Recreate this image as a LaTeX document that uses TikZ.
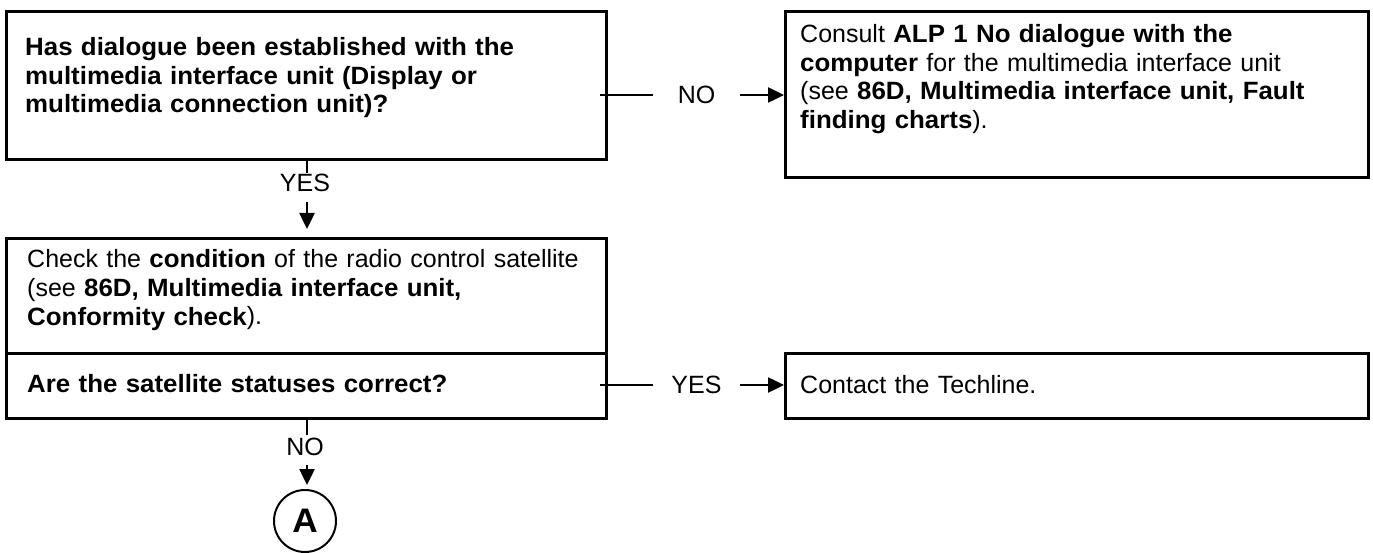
\documentclass[tikz,border=0pt]{standalone}
\usepackage{fontspec}
\setmainfont[BoldFeatures={FakeStretch=1.035}]{Liberation Sans}
\usetikzlibrary{arrows.meta,calc}
\begin{document}
\begin{tikzpicture}[x=1pt,y=-1pt,
  box/.style={draw, line width=3pt, anchor=north west, inner sep=0pt},
  txt/.style={anchor=base west, inner sep=0pt, align=left, text width=#1, font=\fontsize{25}{28.5}\selectfont},
  lbl/.style={inner sep=0pt, font=\fontsize{25}{28}\selectfont},
  conn/.style={line width=2.5pt},
  arr/.style={conn, -{Triangle[length=16pt,width=15pt]}},
  endcircle/.style={circle, draw, line width=2pt, minimum size=62pt, inner sep=0pt, font=\bfseries\fontsize{34}{34}\selectfont}
]
\useasboundingbox (0,0) rectangle (1373,553);
% boxes
\node[box, minimum width=600pt, minimum height=148pt] (b1) at (5,10) {};
\node[box, minimum width=600pt, minimum height=115pt] (b2a) at (5,237) {};
\node[box, minimum width=600pt, minimum height=65pt] (b2b) at (5,352) {};
\node[box, minimum width=583pt, minimum height=166pt] (b3) at (784,10) {};
\node[box, minimum width=583pt, minimum height=65pt] (b4) at (784,352) {};
% texts
\node[txt=575pt] (t1) at (25,56) {\textbf{Has dialogue been established with the}\\\textbf{multimedia interface unit (Display or}\\\textbf{multimedia connection unit)?}};
\node[txt=575pt] (t2a) at (27,268) {Check the \textbf{condition} of the radio control satellite\\(see \textbf{86D, Multimedia interface unit,}\\\textbf{Conformity check}).};
\node[txt=575pt] (t2b) at (27,392) {\textbf{Are the satellite statuses correct?}};
\node[txt=565pt] (t3) at (800,43) {Consult \textbf{ALP 1 No dialogue with the}\\\textbf{computer} for the multimedia interface unit\\(see \textbf{86D, Multimedia interface unit, Fault}\\\textbf{finding charts}).};
\node[txt=565pt] (t4) at (800,393) {Contact the Techline.};
% labels
\node[lbl, minimum width=87pt] (no1) at (696.5,95) {NO};
\node[lbl, minimum width=87pt] (yes2) at (696.5,385) {YES};
\node[lbl] (yes1) at (305,183) {YES};
\node[lbl] (no2) at (305,447) {NO};
\node[endcircle] (A) at (305,521) {A};
% coordinates for free ends
\coordinate (t1a) at (307,173);
\coordinate (a1) at (307,202);
\coordinate (t2c) at (307,435);
\coordinate (a2) at (307,465);
% connectors
\draw[conn] ($(b1.east |- no1.west)+(-8,0)$) -- (no1.west);
\draw[arr] (no1.east) -- (b3.west |- no1.east);
\draw[conn] ($(b2b.east |- yes2.west)+(-8,0)$) -- (yes2.west);
\draw[arr] (yes2.east) -- (b4.west |- yes2.east);
\draw[conn] (b1.south -| t1a) -- (t1a);
\draw[arr] (a1) -- ($(b2a.north -| a1)+(0,-8)$);
\draw[conn] (b2b.south -| t2c) -- (t2c);
\draw[arr] (a2) -- ($(A.north -| a2)+(0,-4)$);
\end{tikzpicture}
\end{document}
